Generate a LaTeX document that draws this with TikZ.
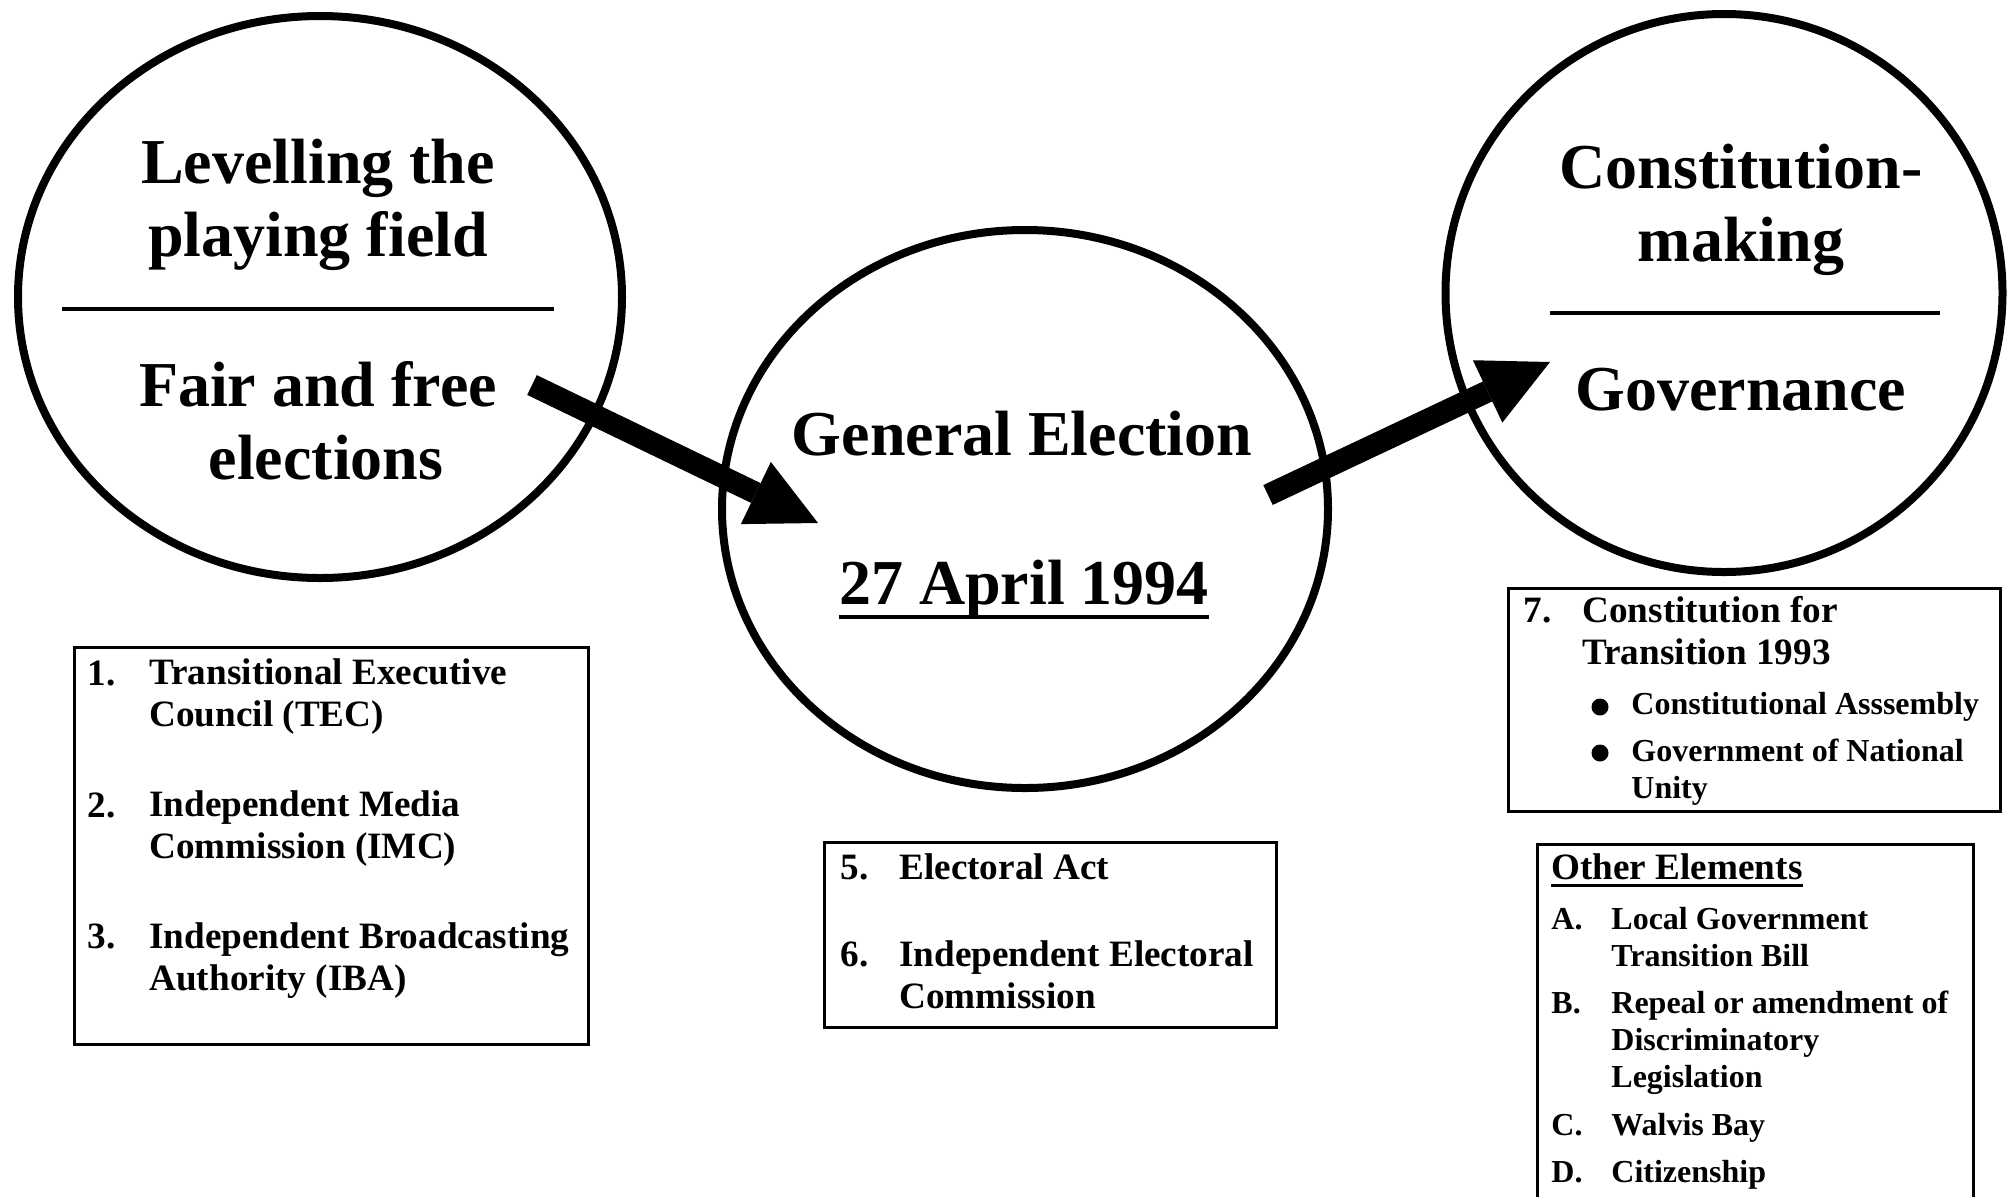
\documentclass[tikz,border=0pt]{standalone}
\usepackage{fontspec}
\setmainfont{Liberation Serif}
\usetikzlibrary{shapes.geometric,arrows.meta}

\tikzset{
  ring/.style={draw, ellipse, line width=4pt, inner sep=0pt},
  headtext/.style={font=\fontsize{32}{36.5}\selectfont\bfseries, align=center, anchor=base, inner sep=0pt},
  listbox/.style={draw, line width=1.6pt, anchor=north west, inner sep=0pt},
  numtext/.style={font=\fontsize{18.6}{21}\selectfont\bfseries, anchor=base west, inner sep=0pt, align=left},
  smalltext/.style={font=\fontsize{16}{18.5}\selectfont\bfseries, anchor=base west, inner sep=0pt, align=left},
  dot/.style={circle, fill, inner sep=0pt, minimum size=8.5pt},
  fat/.style={line width=11pt, -{Triangle[length=34.5pt, width=34.5pt, line width=0pt]}},
}

\begin{document}
\begin{tikzpicture}[x=0.5pt, y=-0.5pt]
            \clip (0,0) rectangle (2014,1196);
            \fill[white] (0,0) rectangle (2014,1196);

            % the three stages (multi-line nodes sit on their last line)
            \node (c1) [ring, minimum width=302pt, minimum height=281pt] at (320,297) {};
            \node (c2) [ring, minimum width=303pt, minimum height=279pt] at (1025,509) {};
            \node (c3) [ring, minimum width=278.5pt, minimum height=279pt] at (1724,293) {};

            \node (t1) [headtext] at (318,256) {Levelling the\\playing field};
            \draw[line width=2pt] (62,309) -- (554,309);
            \node (t2) [headtext] at (318,406) {Fair and free};
            \node (t2b) [headtext] at (326,479) {elections};

            \node (t3) [headtext] at (1022,455) {General Election};
            \node (t4) [headtext] at (1024,604) {27 April 1994};
            \draw[line width=2pt] ([yshift=-6.5pt]t4.base west) -- ([yshift=-6.5pt]t4.base east);

            \node (t5) [headtext] at (1741,261) {Constitution-\\making};
            \draw[line width=2pt] (1550,313) -- (1940,313);
            \node (t6) [headtext] at (1741,410) {Governance};

            % arrows
            \coordinate (a1) at (532,385);
            \coordinate (a2) at (818,523);
            \coordinate (a3) at (1268,495);
            \coordinate (a4) at (1550,362);
            \path[fat]
            (a1) edge (a2)
            (a3) edge (a4);

            % left box
            \node (r1) [listbox, minimum width=257pt, minimum height=198.5pt] at (73,646) {};
            \node (n1) [numtext] at (87,685) {1.};
            \node (e1) [numtext] at (149,726) {Transitional Executive\\Council (TEC)};
            \node (n2) [numtext] at (87,817) {2.};
            \node (e2) [numtext] at (149,858) {Independent Media\\Commission (IMC)};
            \node (n3) [numtext] at (87,948) {3.};
            \node (e3) [numtext] at (149,990) {Independent Broadcasting\\Authority (IBA)};

            % middle box
            \node (r2) [listbox, minimum width=226pt, minimum height=92.5pt] at (823,841) {};
            \node (n5) [numtext] at (840,879) {5.};
            \node (e5) [numtext] at (899,879) {Electoral Act};
            \node (n6) [numtext] at (840,966) {6.};
            \node (e6) [numtext] at (899,1008) {Independent Electoral\\Commission};

            % right box
            \node (r3) [listbox, minimum width=246pt, minimum height=111.5pt] at (1507,587) {};
            \node (n7) [numtext] at (1523,622) {7.};
            \node (e7) [numtext] at (1582,664) {Constitution for\\Transition 1993};
            \node (d1) [dot] at (1600,707) {};
            \node (s1) [smalltext] at (1631,714) {Constitutional Asssembly};
            \node (d2) [dot] at (1600,753) {};
            \node (s2) [smalltext] at (1631,798) {Government of National\\Unity};

            % other elements
            \node (r4) [listbox, minimum width=218pt, minimum height=200pt] at (1536,843) {};
            \node (o0) [numtext] at (1551,879) {Other Elements};
            \draw[line width=1.5pt] ([yshift=-3pt]o0.base west) -- ([yshift=-3pt]o0.base east);
            \node (oa) [smalltext] at (1551,929) {A.};
            \node (pa) [smalltext] at (1611,966) {Local Government\\Transition Bill};
            \node (ob) [smalltext] at (1551,1013) {B.};
            \node (pb) [smalltext] at (1611,1087) {Repeal or amendment of\\Discriminatory\\Legislation};
            \node (oc) [smalltext] at (1551,1135) {C.};
            \node (pc) [smalltext] at (1611,1135) {Walvis Bay};
            \node (od) [smalltext] at (1551,1182) {D.};
            \node (pd) [smalltext] at (1611,1182) {Citizenship};

        \end{tikzpicture}
\end{document}
